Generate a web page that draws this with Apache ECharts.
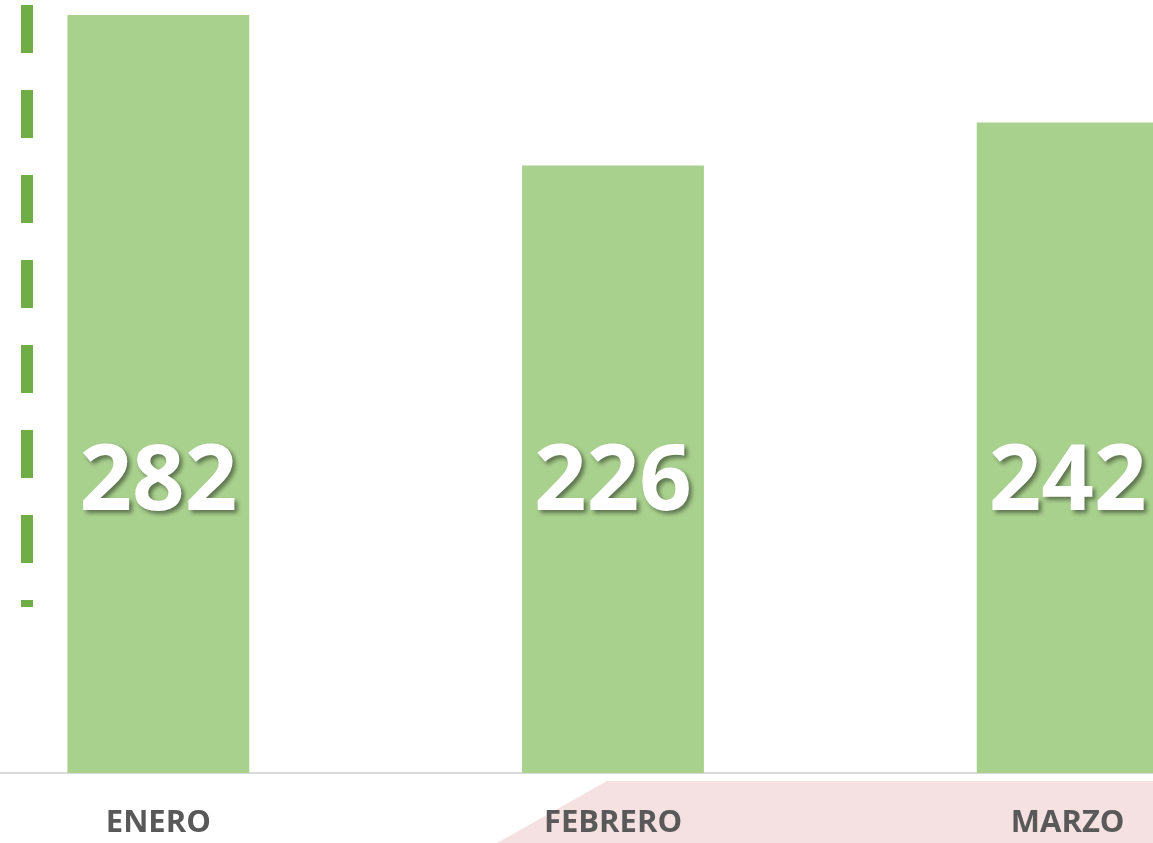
<!DOCTYPE html>
<html>
<head>
<meta charset="utf-8">
<script src="https://cdn.jsdelivr.net/npm/echarts@6/dist/echarts.min.js"></script>
<style>
  html, body { margin: 0; padding: 0; background: #fff; overflow: hidden; width: 1153px; height: 843px; position: relative; }
  /* el grafico original esta recortado a los lados */
  #chart { position: absolute; left: -69px; top: 0; width: 1364px; height: 843px; }
</style>
</head>
<body>
<div id="chart"></div>
<script>
var meses = ['ENERO', 'FEBRERO', 'MARZO'];
var valores = [282, 226, 242];

var chart = echarts.init(document.getElementById('chart'));
var dx = 69; // desplazamiento del lienzo

var option = {
    animation: false,
    grid: {
        left: 0,
        right: 0,
        top: 15,
        bottom: 70
    },
    // adornos: franja rosa abajo y linea punteada a la izquierda
    graphic: [
        {
            type: 'polygon',
            z: 0,
            shape: { points: [[607 + dx, 781], [1153 + dx, 781], [1153 + dx, 843], [497 + dx, 843]] },
            style: { fill: '#f5e1e1' }
        },
        {
            type: 'line',
            z: 0,
            shape: { x1: 27 + dx, y1: 5, x2: 27 + dx, y2: 607 },
            style: { stroke: '#70ad47', lineWidth: 12, lineDash: [48, 37] }
        }
    ],
    xAxis: {
        type: 'category',
        data: meses,
        axisLine: { lineStyle: { color: '#d9d9d9', width: 2 } },
        axisTick: { show: false },
        axisLabel: {
            margin: 50,
            verticalAlign: 'middle',
            color: '#595959',
            fontFamily: 'Open Sans',
            fontWeight: 'bold',
            fontSize: 31
        }
    },
    yAxis: {
        type: 'value',
        min: 0,
        max: 282,
        show: false,
        splitLine: { show: false }
    },
    series: [
        {
            type: 'bar',
            data: valores,
            barWidth: '40%',
            itemStyle: { color: '#a9d18e' },
            label: {
                show: true,
                position: 'insideBottom',
                distance: 243,
                color: '#fff',
                fontFamily: 'Open Sans',
                fontWeight: 'bold',
                fontSize: 92,
                lineHeight: 92,
                textShadowColor: 'rgba(0,0,0,0.45)',
                textShadowBlur: 4,
                textShadowOffsetX: 3,
                textShadowOffsetY: 3
            }
        }
    ]
};

chart.setOption(option);
</script>
</body>
</html>
